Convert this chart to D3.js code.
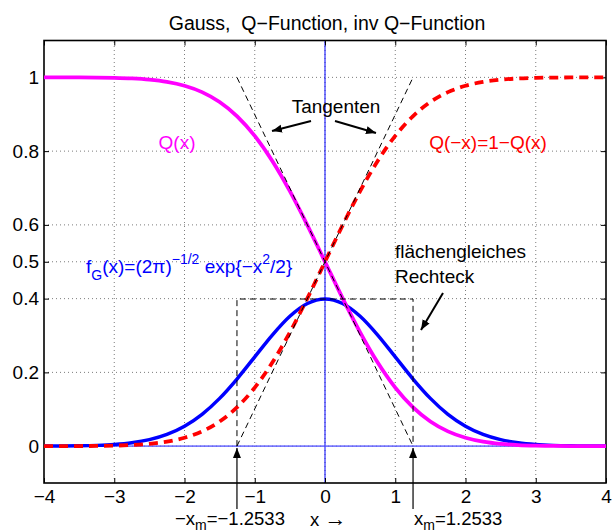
<!DOCTYPE html>
<html><head><meta charset="utf-8">
<script src="https://cdn.jsdelivr.net/npm/d3@7"></script>
<style>body{margin:0;background:#fff}svg{display:block}text{font-family:"Liberation Sans",Arial,Helvetica,sans-serif;white-space:pre}</style>
</head><body><svg id="c" width="612" height="532"></svg>
<script>
const xs = [-4,-3.75,-3.5,-3.25,-3,-2.75,-2.5,-2.25,-2,-1.75,-1.5,-1.25,-1,-0.75,-0.5,-0.25,0,0.25,0.5,0.75,1,1.25,1.5,1.75,2,2.25,2.5,2.75,3,3.25,3.5,3.75,4];
const qx = [1.0,0.99991,0.99977,0.99942,0.99865,0.99702,0.99379,0.98778,0.97725,0.95994,0.93319,0.89435,0.84134,0.77337,0.69146,0.59871,0.5,0.40129,0.30854,0.22663,0.15866,0.10565,0.06681,0.04006,0.02275,0.01222,0.00621,0.00298,0.00135,0.00058,0.00023,0.00009,0.00003];
const qmx = [0.00003,0.00009,0.00023,0.00058,0.00135,0.00298,0.00621,0.01222,0.02275,0.04006,0.06681,0.10565,0.15866,0.22663,0.30854,0.40129,0.5,0.59871,0.69146,0.77337,0.84134,0.89435,0.93319,0.95994,0.97725,0.98778,0.99379,0.99702,0.99865,0.99942,0.99977,0.99991,1.0];
const gauss = [0.00013,0.00035,0.00087,0.00203,0.00443,0.00909,0.01753,0.03174,0.05399,0.08628,0.12952,0.18265,0.24197,0.30114,0.35207,0.38667,0.39894,0.38667,0.35207,0.30114,0.24197,0.18265,0.12952,0.08628,0.05399,0.03174,0.01753,0.00909,0.00443,0.00203,0.00087,0.00035,0.00013];
const xTicks = [-4,-3,-2,-1,0,1,2,3,4];
const yTicks = [0,0.2,0.4,0.5,0.6,0.8,1];
const xm = 1.2533;
const rectH = 0.3989;
const tangentQ = [[-1.2533,1],[1.2533,0]];
const tangentQm = [[-1.2533,0],[1.2533,1]];
const rectPts = [[-1.2533,0],[-1.2533,0.3989],[1.2533,0.3989],[1.2533,0]];

const svg = d3.select("#c");
svg.append("rect").attr("width",612).attr("height",532).attr("fill","#fff");
const x = d3.scaleLinear().domain([-4,4]).range([44,606]);
const y = d3.scaleLinear().domain([-0.1,1.1]).range([483,40.5]);
const FS = 19;
const SS = 14;

// grid
const g = svg.append("g");
g.selectAll(".gx").data(xTicks.slice(1,-1)).join("line")
  .attr("x1",d=>x(d)).attr("x2",d=>x(d)).attr("y1",y(-0.1)).attr("y2",y(1.1))
  .attr("stroke","#444").attr("stroke-width",0.7).attr("stroke-dasharray","1,3");
g.selectAll(".gy").data(yTicks).join("line")
  .attr("y1",d=>y(d)).attr("y2",d=>y(d)).attr("x1",x(-4)).attr("x2",x(4))
  .attr("stroke","#444").attr("stroke-width",0.7).attr("stroke-dasharray","1,3");

// blue axis lines
svg.append("line").attr("x1",x(0)).attr("x2",x(0)).attr("y1",y(-0.1)).attr("y2",y(1.1))
  .attr("stroke","#0000ff").attr("stroke-width",1);
svg.append("line").attr("x1",x(-4)).attr("x2",x(4)).attr("y1",y(0)).attr("y2",y(0))
  .attr("stroke","#5a5aff").attr("stroke-width",1.8).attr("opacity",0.8);

// axes
const ax = d3.axisBottom(x).tickValues(xTicks).tickSizeInner(-5).tickSizeOuter(0).tickPadding(7);
svg.append("g").attr("transform",`translate(0,${y(-0.1)})`).call(ax);
const ay = d3.axisLeft(y).tickValues(yTicks).tickSizeInner(-5).tickSizeOuter(0).tickPadding(5).tickFormat(d=>String(d));
svg.append("g").attr("transform",`translate(${x(-4)},0)`).call(ay);
svg.append("g").attr("transform",`translate(0,${y(1.1)})`).call(d3.axisTop(x).tickValues(xTicks).tickSizeInner(-5).tickSizeOuter(0).tickFormat(""));
svg.append("g").attr("transform",`translate(${x(4)},0)`).call(d3.axisRight(y).tickValues(yTicks).tickSizeInner(-5).tickSizeOuter(0).tickFormat(""));
svg.selectAll(".domain").remove();
svg.selectAll(".tick text").attr("font-size",FS).attr("font-family",'"Liberation Sans",Arial,sans-serif').attr("fill","#000");
svg.selectAll(".tick line").attr("stroke","#000");
svg.append("rect").attr("x",x(-4)).attr("y",y(1.1)).attr("width",x(4)-x(-4)).attr("height",y(-0.1)-y(1.1))
  .attr("fill","none").attr("stroke","#000").attr("stroke-width",1.6);

// curves
const line = d3.line().x(d=>x(d[0])).y(d=>y(d[1])).curve(d3.curveMonotoneX);
const plot = svg.append("g");
plot.append("path").attr("d",line(xs.map((v,i)=>[v,gauss[i]]))).attr("fill","none").attr("stroke","#0000ff").attr("stroke-width",3.5);
plot.append("path").attr("d",line(xs.map((v,i)=>[v,qx[i]]))).attr("fill","none").attr("stroke","#ff00ff").attr("stroke-width",3.8);
plot.append("path").attr("d",line(xs.map((v,i)=>[v,qmx[i]]))).attr("fill","none").attr("stroke","#ff0000").attr("stroke-width",3.8).attr("stroke-dasharray","9,6");

const lin = d3.line().x(d=>x(d[0])).y(d=>y(d[1]));
[tangentQ,tangentQm,rectPts].forEach(p=>{
  plot.append("path").attr("d",lin(p)).attr("fill","none").attr("stroke","#000").attr("stroke-width",1).attr("stroke-dasharray","6,4");
});

// arrows
const defs = svg.append("defs");
defs.append("marker").attr("id","ah").attr("viewBox","0 0 10 10").attr("refX",10).attr("refY",5)
  .attr("markerWidth",10).attr("markerHeight",10).attr("markerUnits","userSpaceOnUse").attr("orient","auto")
  .append("path").attr("d","M0,1 L10,5 L0,9 Z").attr("fill","#000");
function arrow(x1,y1,x2,y2,w){
  svg.append("line").attr("x1",x1).attr("y1",y1).attr("x2",x2).attr("y2",y2)
    .attr("stroke","#000").attr("stroke-width",w||2).attr("marker-end","url(#ah)");
}
arrow(311,121,272,131,2);
arrow(335,121,376,133,2);
arrow(443,293,421,330,2);
arrow(x(-xm),509,x(-xm),448,1.2);
arrow(x(xm),509,x(xm),448,1.2);

// texts
const T = (tx,ty,s,col,anchor)=>svg.append("text").attr("x",tx).attr("y",ty).attr("font-size",FS).attr("fill",col||"#000").attr("text-anchor",anchor||"start").text(s);
T(327,30,"Gauss,  Q\u2212Function, inv Q\u2212Function","#000","middle").attr("font-size",19.5);
T(336,113,"Tangenten","#000","middle");
T(177,149,"Q(x)","#ff00ff","middle");
T(488,149,"Q(\u2212x)=1\u2212Q(x)","#ff0000","middle");
T(395,258,"flächengleiches");
T(395,283,"Rechteck");

const f = svg.append("text").attr("x",86).attr("y",273).attr("font-size",FS).attr("fill","#0000ff");
f.append("tspan").text("f");
f.append("tspan").attr("dy",7).attr("font-size",SS).text("G");
f.append("tspan").attr("dy",-7).text("(x)=(2\u03c0)");
f.append("tspan").attr("dy",-9).attr("font-size",SS).text("\u22121/2");
f.append("tspan").attr("dy",9).text(" exp{\u2212x");
f.append("tspan").attr("dy",-9).attr("font-size",SS).text("2");
f.append("tspan").attr("dy",9).text("/2}");

const BF = 18.5;
const a = svg.append("text").attr("x",175).attr("y",525).attr("font-size",BF).attr("fill","#000");
a.append("tspan").text("\u2212x");
a.append("tspan").attr("dy",5).attr("font-size",SS).text("m");
a.append("tspan").attr("dy",-5).text("=\u22121.2533");
const xl = svg.append("text").attr("x",310).attr("y",526).attr("font-size",BF).attr("fill","#000");
xl.append("tspan").text("x ");
xl.append("tspan").attr("font-size",22).text("\u2192");
const b = svg.append("text").attr("x",414).attr("y",525).attr("font-size",BF).attr("fill","#000");
b.append("tspan").text("x");
b.append("tspan").attr("dy",5).attr("font-size",SS).text("m");
b.append("tspan").attr("dy",-5).text("=1.2533");
</script></body></html>
